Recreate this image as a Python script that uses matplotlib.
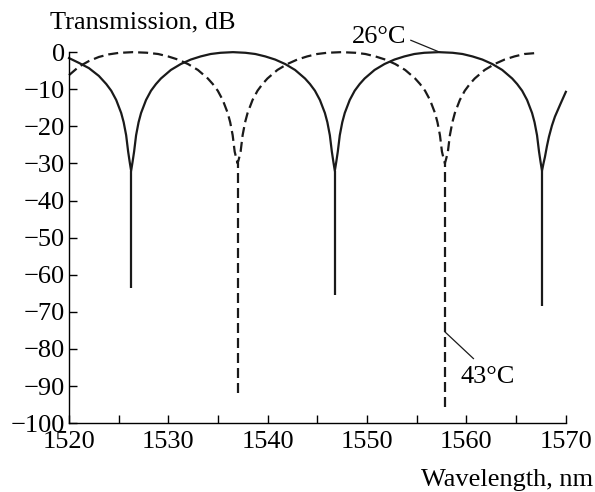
import matplotlib
matplotlib.use("Agg")
import matplotlib.pyplot as plt
from matplotlib.ticker import MultipleLocator

plt.rcParams["font.family"] = ["Liberation Serif", "DejaVu Serif"]
plt.rcParams["lines.scale_dashes"] = False

# 26 C curve (solid)
wl_26 = [1520.0, 1521.0, 1522.0, 1523.0, 1523.75, 1524.25, 1524.75, 1525.25, 1525.5,
         1525.75, 1525.95, 1526.1, 1526.25,
         1526.4, 1526.55, 1526.75, 1527.0, 1527.25, 1527.75, 1528.25, 1528.75,
         1529.25, 1530.25, 1531.25, 1532.25, 1533.25, 1534.25, 1535.25, 1536.5,
         1537.75, 1538.75, 1539.75, 1540.75, 1541.75, 1542.75, 1543.75, 1544.25,
         1544.75, 1545.25, 1545.75, 1546.0, 1546.25, 1546.45, 1546.6, 1546.75,
         1546.9, 1547.05, 1547.25, 1547.5, 1547.75, 1548.25, 1548.75, 1549.25,
         1549.75, 1550.75, 1551.75, 1552.75, 1553.75, 1554.75, 1555.75, 1557.2,
         1558.6, 1559.6, 1560.6, 1561.6, 1562.6, 1563.6, 1564.6, 1565.1,
         1565.6, 1566.1, 1566.6, 1566.85, 1567.1, 1567.3, 1567.45, 1567.6,
         1567.75, 1567.9, 1568.1, 1568.3, 1568.6, 1568.9, 1569.45, 1570.0]
db_26 = [-1.6, -2.9, -4.3, -6.4, -8.6, -10.4, -12.9, -16.4, -18.9,
         -22.4, -26.8, -29.5, -32.0,
         -29.5, -26.8, -22.4, -18.9, -16.4, -12.9, -10.4, -8.6,
         -7.1, -4.8, -3.2, -2.0, -1.15, -0.5, -0.17, 0.0,
         -0.17, -0.5, -1.15, -2.0, -3.2, -4.8, -7.1, -8.6,
         -10.4, -12.9, -16.4, -18.9, -22.4, -26.8, -29.5, -32.0,
         -29.5, -26.8, -22.4, -18.9, -16.4, -12.9, -10.4, -8.6,
         -7.1, -4.8, -3.2, -2.0, -1.15, -0.5, -0.17, 0.0,
         -0.17, -0.5, -1.15, -2.0, -3.2, -4.8, -7.1, -8.6,
         -10.4, -12.9, -16.4, -18.9, -22.4, -26.8, -29.5, -32.0,
         -30.0, -28.2, -25.3, -22.8, -19.8, -17.4, -14.0, -10.7]
# narrow notches below the cusps
notch_wl_26 = [1526.25, 1546.75, 1567.6]
notch_top_26 = [-32.0, -32.0, -32.0]
notch_bottom_26 = [-63.5, -65.5, -68.5]

# 43 C curve (dashed)
wl_43 = [1520.0, 1521.0, 1522.0, 1523.0, 1524.0, 1525.0, 1526.4,
         1527.8, 1528.97, 1529.97, 1530.97, 1531.97, 1532.97, 1533.97, 1534.47,
         1534.97, 1535.47, 1535.97, 1536.22, 1536.47, 1536.67, 1536.82, 1536.97,
         1537.12, 1537.27, 1537.47, 1537.72, 1537.97, 1538.47, 1538.97, 1539.47,
         1539.97, 1540.97, 1541.97, 1542.97, 1543.97, 1544.97, 1545.97, 1547.4,
         1548.83, 1549.83, 1550.83, 1551.83, 1552.83, 1553.83, 1554.83, 1555.33,
         1555.83, 1556.33, 1556.83, 1557.08, 1557.33, 1557.53, 1557.68, 1557.83,
         1557.98, 1558.13, 1558.33, 1558.58, 1558.83, 1559.33, 1559.83, 1560.33,
         1560.83, 1561.83, 1562.83, 1563.83, 1564.83, 1565.83, 1567.2]
db_43 = [-6.2, -3.9, -2.4, -1.3, -0.6, -0.2, 0.0,
         -0.15, -0.5, -1.15, -2.0, -3.2, -4.8, -7.1, -8.6,
         -10.4, -12.9, -16.4, -18.9, -22.4, -26.8, -28.5, -30.0,
         -28.5, -26.8, -22.4, -18.9, -16.4, -12.9, -10.4, -8.6,
         -7.1, -4.8, -3.2, -2.0, -1.15, -0.5, -0.17, 0.0,
         -0.17, -0.5, -1.15, -2.0, -3.2, -4.8, -7.1, -8.6,
         -10.4, -12.9, -16.4, -18.9, -22.4, -26.8, -28.5, -30.0,
         -28.5, -26.8, -22.4, -18.9, -16.4, -12.9, -10.4, -8.6,
         -7.1, -4.8, -3.2, -2.0, -1.15, -0.5, -0.2]
notch_wl_43 = [1536.97, 1557.83]
notch_top_43 = [-30.0, -30.0]
notch_bottom_43 = [-91.8, -95.6]

ink = "#1a1a1a"
dash = (0, (7.2, 3.6))

fig = plt.figure(figsize=(5.95, 4.92), dpi=100)
ax = fig.add_axes([0.116, 0.140, 0.835, 0.754])

ax.plot(wl_26, db_26, color=ink, lw=1.6, clip_on=False)
ax.vlines(notch_wl_26, notch_bottom_26, notch_top_26, colors=ink, lw=1.6)
ax.plot(wl_43, db_43, color=ink, lw=1.6, linestyle=dash, clip_on=False)
ax.vlines(notch_wl_43, notch_bottom_43, notch_top_43, colors=ink, lw=1.6,
          linestyles=[dash])

ax.set_xlim(1520, 1570)
ax.set_ylim(-100, 0)
ax.xaxis.set_major_locator(MultipleLocator(10))
ax.xaxis.set_minor_locator(MultipleLocator(5))
ax.yaxis.set_major_locator(MultipleLocator(10))
ax.spines["top"].set_visible(False)
ax.spines["right"].set_visible(False)
for s in ["left", "bottom"]:
    ax.spines[s].set_linewidth(1.0)
ax.tick_params(which="both", direction="in", length=6, width=1.0, labelsize=19)
ax.tick_params(axis="y", pad=3)
ax.tick_params(axis="x", pad=6)

fig.text(50 / 595, 1 - 22 / 492, "Transmission, dB", fontsize=19, ha="left", va="center")
fig.text(593 / 595, 1 - 480 / 492, "Wavelength, nm", fontsize=19, ha="right", va="center")

# labels with thin leader lines
ax.text(1551.2, 4.0, "26°C", fontsize=19, ha="center", va="center")
ax.plot([1554.4, 1557.3], [3.2, 0.0], color=ink, lw=0.9, clip_on=False)
ax.text(1562.1, -87.6, "43°C", fontsize=19, ha="center", va="center")
ax.plot([1557.83, 1560.7], [-75.4, -82.6], color=ink, lw=0.9)

fig.savefig("out.png", dpi=100)
